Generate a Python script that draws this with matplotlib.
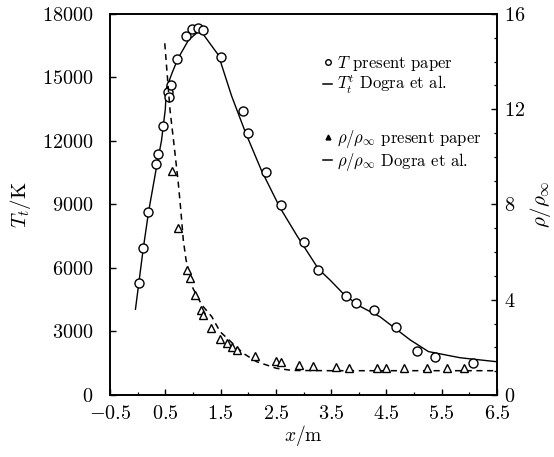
import matplotlib
matplotlib.use("Agg")
import matplotlib.pyplot as plt
from matplotlib.lines import Line2D
from matplotlib.ticker import MultipleLocator

plt.rcParams['font.family'] = 'serif'
plt.rcParams['font.serif'] = ['cmr10']
plt.rcParams['mathtext.fontset'] = 'cm'
plt.rcParams['axes.formatter.use_mathtext'] = True
plt.rcParams['axes.unicode_minus'] = True

# T present paper (circles)
T_x = [0.03, 0.10, 0.19, 0.33, 0.37, 0.45, 0.54, 0.57, 0.60, 0.72, 0.87, 0.98,
       1.09, 1.18, 1.50, 1.90, 2.00, 2.33, 2.60, 3.01, 3.26, 3.77, 3.94, 4.27,
       4.67, 5.05, 5.38, 6.06]
T_y = [5300, 6950, 8650, 10900, 11400, 12700, 14330, 14100, 14650, 15870, 16970,
       17290, 17340, 17240, 15980, 13430, 12380, 10550, 8980, 7240, 5900, 4680,
       4330, 4020, 3230, 2090, 1810, 1530]

# T Dogra et al. (solid line)
Td_x = [-0.04, 0.10, 0.20, 0.35, 0.43, 0.50, 0.52, 0.62, 0.73, 0.92, 1.13,
        1.46, 1.70, 1.95, 2.24, 2.57, 2.88, 3.27, 3.48, 3.75, 4.05, 4.38, 4.93,
        5.26, 5.83, 6.50]
Td_y = [4050, 6900, 8700, 10900, 12000, 13500, 14490, 15200, 15900, 16770, 17240,
        16060, 14120, 12400, 10600, 8870, 7530, 5950, 5430, 4700, 4150, 3700,
        2600, 2050, 1760, 1570]

# rho/rho_inf present paper (triangles)
R_x = [0.625, 0.735, 0.885, 0.95, 1.04, 1.14, 1.19, 1.32, 1.49, 1.61, 1.70, 1.79,
       2.12, 2.51, 2.60, 2.92, 3.18, 3.59, 3.83, 4.33, 4.50, 4.82, 5.23, 5.60, 5.91]
R_y = [9.4, 7.0, 5.26, 4.90, 4.20, 3.57, 3.36, 2.80, 2.34, 2.17, 2.00, 1.89,
       1.62, 1.43, 1.38, 1.26, 1.22, 1.16, 1.15, 1.12, 1.12, 1.12, 1.12, 1.12, 1.12]

# rho/rho_inf Dogra et al. (dashed line)
Rd_x = [0.49, 0.585, 0.675, 0.735, 0.78, 0.825, 0.875, 1.00, 1.16, 1.34, 1.49,
        1.91, 2.15, 2.51, 2.80, 3.5, 4.5, 5.5, 6.5]
Rd_y = [14.77, 11.97, 10.15, 8.89, 7.77, 6.51, 5.67, 4.48, 3.78, 3.29, 2.66,
        1.75, 1.40, 1.12, 1.03, 1.02, 1.02, 1.02, 1.02]

fig = plt.figure(figsize=(5.54, 4.57), dpi=100)
ax = fig.add_axes([0.1986, 0.1357, 0.6986, 0.8337])
ax2 = ax.twinx()

ax.plot(Td_x, Td_y, color='black', lw=1.0)
ax.plot(T_x, T_y, linestyle='none', marker='o', ms=6.5, mfc='white', mec='black', mew=1.0)
ax2.plot(Rd_x, Rd_y, color='black', lw=1.1, dashes=(4, 3))
ax2.plot(R_x, R_y, linestyle='none', marker='^', ms=5.5, mfc='white', mec='black', mew=1.0)

ax.set_xlim(-0.5, 6.5)
ax.set_ylim(0, 18000)
ax2.set_ylim(0, 16)
ax.set_xticks([-0.5, 0.5, 1.5, 2.5, 3.5, 4.5, 5.5, 6.5])
ax.xaxis.set_minor_locator(MultipleLocator(1.0))
ax.set_yticks([0, 3000, 6000, 9000, 12000, 15000, 18000])
ax2.set_yticks([0, 4, 8, 12, 16])
ax2.yaxis.set_minor_locator(MultipleLocator(1))

for a in (ax, ax2):
    a.tick_params(direction='in', labelsize=14.5, length=4, width=1.0)
    a.tick_params(which='minor', direction='in', length=2.5, width=0.9)
    for s in a.spines.values():
        s.set_linewidth(1.2)
ax.tick_params(right=False)
ax.tick_params(axis='x', pad=7)
ax.tick_params(axis='y', pad=12)
ax2.tick_params(axis='y', pad=5)

ax.set_xlabel(r'$x/\mathrm{m}$', fontsize=14, labelpad=0)
ax.set_ylabel(r'$T_t/\mathrm{K}$', fontsize=15, labelpad=6)
ax2.set_ylabel(r'$\rho/\rho_\infty$', fontsize=15, labelpad=2)

h1 = [Line2D([], [], linestyle='none', marker='o', ms=4, mfc='white', mec='black', mew=1.0),
      Line2D([], [], color='black', lw=1.1)]
l1 = [r'$T$ present paper', r'$T_t^t$ Dogra et al.']
h2 = [Line2D([], [], linestyle='none', marker='^', ms=3.5, mfc='black', mec='black'),
      Line2D([], [], color='black', lw=1.1)]
l2 = [r'$\rho/\rho_\infty$ present paper', r'$\rho/\rho_\infty$ Dogra et al.']

kw = dict(loc='upper left', frameon=False, fontsize=12, handlelength=0.5,
          handletextpad=0.3, labelspacing=0.05, borderpad=0)
leg1 = ax.legend(h1, l1, bbox_to_anchor=(0.53, 0.918), **kw)
ax.add_artist(leg1)
leg2 = ax.legend(h2, l2, bbox_to_anchor=(0.53, 0.722), **kw)

fig.savefig('out.png', dpi=100)
